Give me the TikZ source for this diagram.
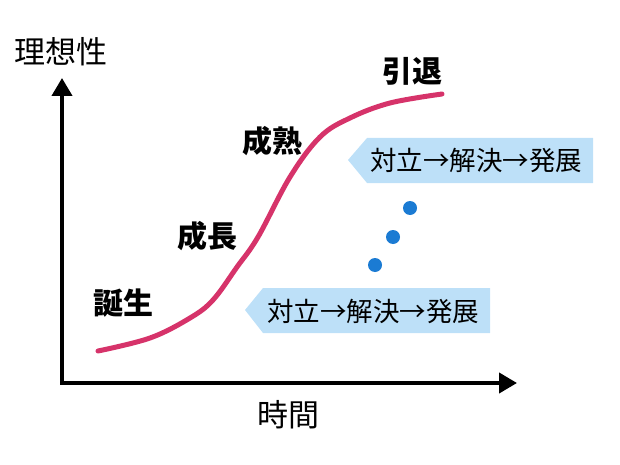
\documentclass[tikz,border=0pt]{standalone}
\usepackage{fontspec}
\setmainfont{Noto Sans CJK JP}
\usetikzlibrary{arrows.meta}
\definecolor{curvec}{HTML}{D6336A}
\definecolor{bannerc}{HTML}{BDE0F8}
\definecolor{dotc}{HTML}{1B7BD3}
\tikzset{
  stage/.style={font=\fontsize{30}{34}\selectfont\bfseries, text=black, inner sep=0pt},
  axlabel/.style={font=\fontsize{31}{35}\selectfont, text=black, inner sep=0pt},
  bantext/.style={font=\fontsize{26.5}{30}\selectfont, text=black, inner sep=0pt},
  axisline/.style={line width=4pt, -{Triangle[length=18pt,width=20pt]}},
  dotstyle/.style={circle, fill=dotc, minimum size=14pt, inner sep=0pt},
}
\begin{document}
\begin{tikzpicture}[x=1pt,y=-1pt]
\useasboundingbox (0,0) rectangle (620,465);
% axes
\coordinate (o) at (62,383);
\coordinate (ytop) at (62,78);
\coordinate (xend) at (517,383);
\draw[axisline] (o) -- (ytop);
\draw[axisline] (o) -- (xend);
\draw[line width=4pt] (62,381) -- (62,385);
\node[axlabel] (ylab) at (61,52) {理想性};
\node[axlabel] (xlab) at (288,415) {時間};
% curve
\draw[curvec, line width=5pt, line cap=round] plot[smooth, tension=0.6] coordinates
  {(98,351) (150,338) (190,318) (213,300) (237,267) (258,237) (290,177) (320,137) (350,118) (390,103) (442,94)};
% stage labels
\node[stage] (s1) at (123,303) {誕生};
\node[stage] (s2) at (207,236) {成長};
\node[stage] (s3) at (272,141) {成熟};
\node[stage] (s4) at (412,71) {引退};
% banners
\fill[bannerc] (348,160) -- (367,138) -- (593,138) -- (593,183) -- (367,183) -- cycle;
\node[bantext] (b1) at (476,160) {対立→解決→発展};
\fill[bannerc] (245,310) -- (263,288) -- (490,288) -- (490,333) -- (263,333) -- cycle;
\node[bantext] (b2) at (373,311) {対立→解決→発展};
% dots
\node[dotstyle] (d1) at (410,208) {};
\node[dotstyle] (d2) at (393,237) {};
\node[dotstyle] (d3) at (375,265) {};
\end{tikzpicture}
\end{document}
